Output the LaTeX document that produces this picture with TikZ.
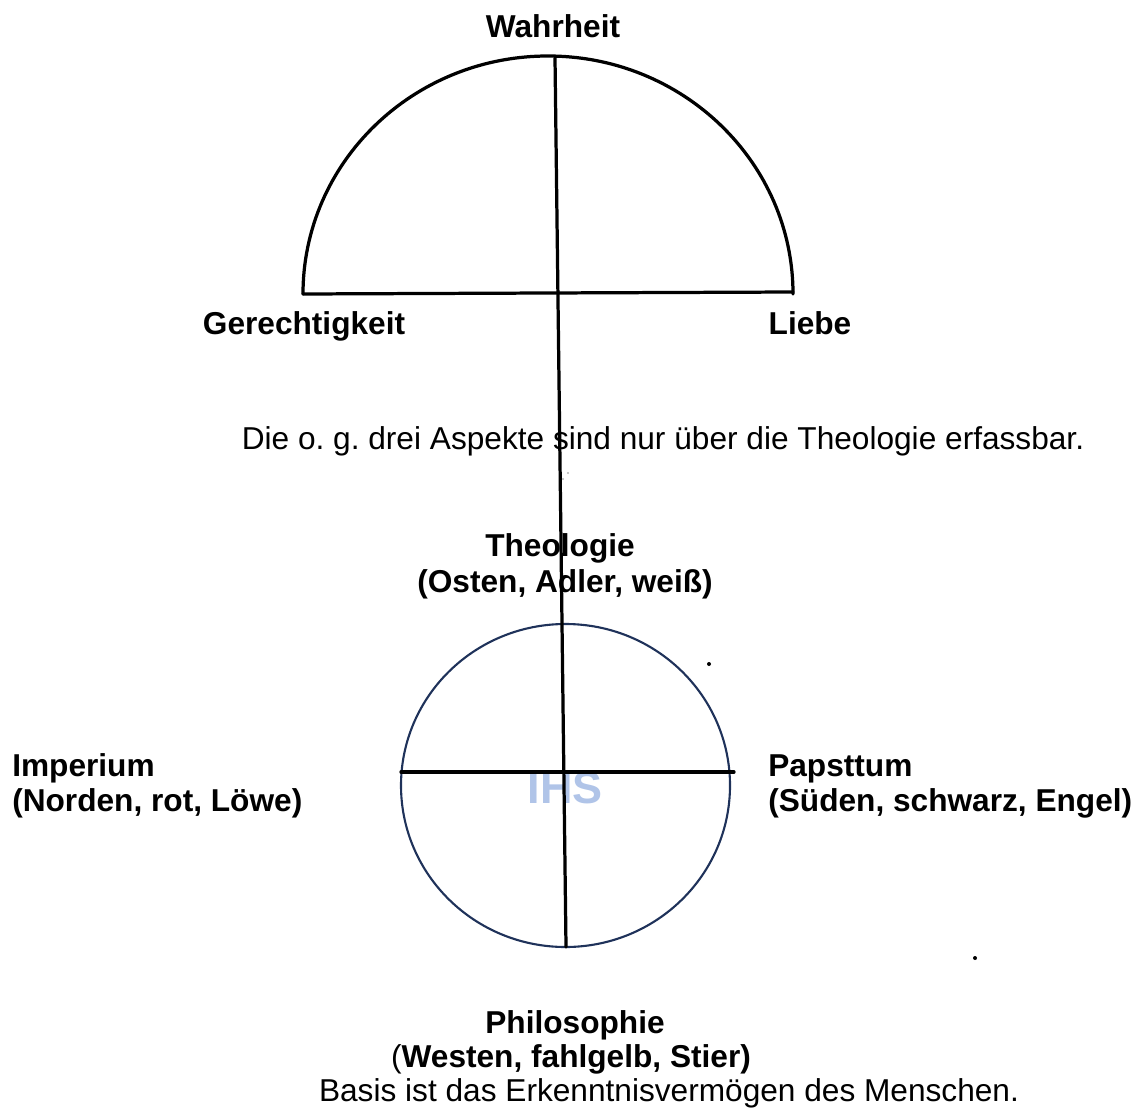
\documentclass[tikz,border=0pt]{standalone}
\usepackage{fontspec}
\setmainfont{Liberation Sans}
\usetikzlibrary{positioning}

\definecolor{kreisblau}{RGB}{31,50,90}
\definecolor{ihsblau}{RGB}{176,196,232}

\begin{document}
\frenchspacing
\begin{tikzpicture}[x=0.025cm,y=-0.025cm,
  every node/.style={font=\fontsize{22.5}{25.5}\selectfont, inner sep=0pt, anchor=base},
  fett/.style={font=\fontsize{22.5}{25.5}\selectfont\bfseries},
  linie/.style={line width=2.3pt, line cap=round},
  kreislinie/.style={draw=kreisblau, line width=1.5pt}]
\useasboundingbox (0,0) rectangle (1141,1110);

% Texte
\node[fett] (wahrheit) at (553,38) {Wahrheit};
\node[fett] (gerecht) at (304,334) {Gerechtigkeit};
\node[fett] (liebe) at (810,334) {Liebe};
\node (hinweis) at (663,449) {Die o. g. drei Aspekte sind nur über die Theologie erfassbar.};
\node[fett] (theo) at (560,556) {Theologie};
\node[fett] (osten) at (565,592) {(Osten, Adler, weiß)};
\node[fett, anchor=base west] (imperium) at (12,776) {Imperium};
\node[fett, anchor=base west] (norden) at (12,811) {(Norden, rot, Löwe)};
\node[fett, anchor=base west] (papst) at (768,776) {Papsttum};
\node[fett, anchor=base west] (sueden) at (768,811) {(Süden, schwarz, Engel)};
\node[fett] (philo) at (575,1033) {Philosophie};
\node (westen) at (571,1067) {(\textbf{Westen, fahlgelb, Stier)}};
\node (basis) at (669,1101) {Basis ist das Erkenntnisvermögen des Menschen.};
\node[font=\fontsize{32}{36}\selectfont\bfseries, text=ihsblau, anchor=center] (ihs) at (565,788) {IHS};

% Halbkreis und Kreis
\coordinate (ge) at (303,294);
\coordinate (li) at (793,292);
\coordinate (oben) at (555,58);
\coordinate (unten) at (566,947);
\coordinate (kw) at (401,772);
\coordinate (ko) at (734,772);
\coordinate (mitte) at (565.5,785.5);
\draw[linie] (ge) arc[start angle=180, end angle=360, x radius=245, y radius=238];
\draw[linie] (ge) -- (li);
\draw[kreislinie] (mitte) ellipse[x radius=164.5, y radius=161.5];
\draw[linie] (kw) -- (ko);
\draw[linie] (oben) -- (unten);

% Punkte
\fill (709,664) circle[radius=2];
\fill (975,958) circle[radius=2];
\fill[gray!60] (568,473) circle[radius=1.2];
\fill[gray!60] (563,479) circle[radius=1.2];
\end{tikzpicture}
\end{document}
